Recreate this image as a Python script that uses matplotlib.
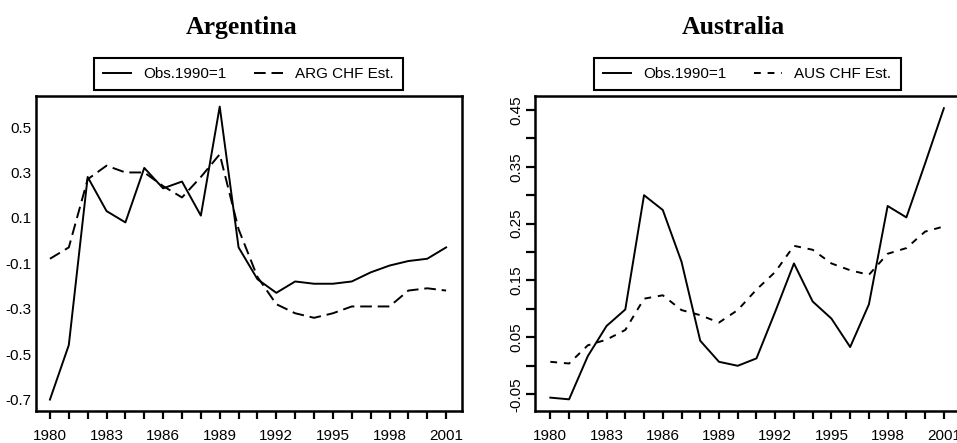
import matplotlib
matplotlib.use("Agg")
import matplotlib.pyplot as plt
from matplotlib.ticker import FixedLocator

plt.rcParams['font.family'] = ['Liberation Sans', 'DejaVu Sans']
plt.rcParams['axes.unicode_minus'] = False

years = list(range(1980, 2002))
year_labels = [1980, 1983, 1986, 1989, 1992, 1995, 1998, 2001]

# Argentina
arg_obs = [-0.70, -0.46, 0.28, 0.13, 0.08, 0.32, 0.23, 0.26, 0.11, 0.59, -0.03,
           -0.17, -0.23, -0.18, -0.19, -0.19, -0.18, -0.14, -0.11, -0.09, -0.08, -0.03]
arg_est = [-0.08, -0.03, 0.27, 0.33, 0.30, 0.30, 0.24, 0.19, 0.28, 0.38, 0.05,
           -0.16, -0.28, -0.32, -0.34, -0.32, -0.29, -0.29, -0.29, -0.22, -0.21, -0.22]
arg_ticks = [0.5, 0.3, 0.1, -0.1, -0.3, -0.5, -0.7]

# Australia
aus_obs = [-0.056, -0.059, 0.017, 0.070, 0.099, 0.300, 0.274, 0.183, 0.044, 0.007, 0.000,
           0.013, 0.095, 0.180, 0.113, 0.083, 0.033, 0.108, 0.281, 0.261, 0.356, 0.453]
aus_est = [0.007, 0.004, 0.036, 0.046, 0.063, 0.118, 0.124, 0.098, 0.089, 0.076, 0.098,
           0.134, 0.165, 0.211, 0.204, 0.180, 0.168, 0.160, 0.197, 0.207, 0.236, 0.245]
aus_ticks = [0.45, 0.35, 0.25, 0.15, 0.05, -0.05]
aus_minor = [0.40, 0.30, 0.20, 0.10, 0.00]

fig = plt.figure(figsize=(9.57, 4.43), dpi=100)
fs = 11


def setup(ax, xlim, ylim):
    ax.set_xlim(*xlim)
    ax.set_ylim(*ylim)
    for s in ax.spines.values():
        s.set_linewidth(1.8)
    ax.xaxis.set_major_locator(FixedLocator(year_labels))
    ax.xaxis.set_minor_locator(FixedLocator([y for y in years if y not in year_labels]))
    ax.set_xticklabels([str(y) for y in year_labels])
    ax.tick_params(axis='x', which='both', direction='out', length=6, width=1.6,
                   pad=7, labelsize=fs)


def add_legend(ax, cx):
    leg = ax.legend(ncol=2, loc='center', bbox_to_anchor=(cx, 0.8326),
                    bbox_transform=fig.transFigure, fontsize=fs, fancybox=False,
                    edgecolor='black', borderpad=0.6, handlelength=1.85,
                    handletextpad=0.8, columnspacing=1.8, framealpha=1)
    leg.get_frame().set_linewidth(1.5)
    return leg


# Argentina panel
ax1 = fig.add_axes([0.0376, 0.0729, 0.4449, 0.7111])
ax1.plot(years, arg_obs, color='black', lw=1.4, label='Obs.1990=1')
ax1.plot(years, arg_est, color='black', lw=1.4, linestyle=(0, (6, 3)), label='ARG CHF Est.')
setup(ax1, (1979.26, 2001.83), (-0.749, 0.638))
ax1.set_yticks(arg_ticks)
ax1.set_yticklabels([f"{t:.1f}" for t in arg_ticks])
ax1.tick_params(axis='y', length=0, pad=3, labelsize=fs)
add_legend(ax1, 0.2594)
fig.text(0.2526, 0.939, 'Argentina', ha='center', va='center', fontsize=18.5,
         fontweight='bold', family='Liberation Serif')

# Australia panel
ax2 = fig.add_axes([0.559, 0.0729, 0.4449, 0.7111])
ax2.plot(years, aus_obs, color='black', lw=1.4, label='Obs.1990=1')
ax2.plot(years, aus_est, color='black', lw=1.4, linestyle=(0, (3.5, 3.5)), label='AUS CHF Est.')
setup(ax2, (1979.18, 2001.9), (-0.079, 0.475))
ax2.set_yticks(aus_ticks)
ax2.yaxis.set_minor_locator(FixedLocator(aus_minor))
ax2.set_yticklabels([f"{t:.2f}" for t in aus_ticks], rotation=90, va='center')
ax2.tick_params(axis='y', which='both', direction='out', length=6.5, width=1.6,
                pad=1.5, labelsize=fs)
add_legend(ax2, 0.7806)
fig.text(0.7667, 0.939, 'Australia', ha='center', va='center', fontsize=18.5,
         fontweight='bold', family='Liberation Serif')

fig.savefig('out.png', dpi=100)
